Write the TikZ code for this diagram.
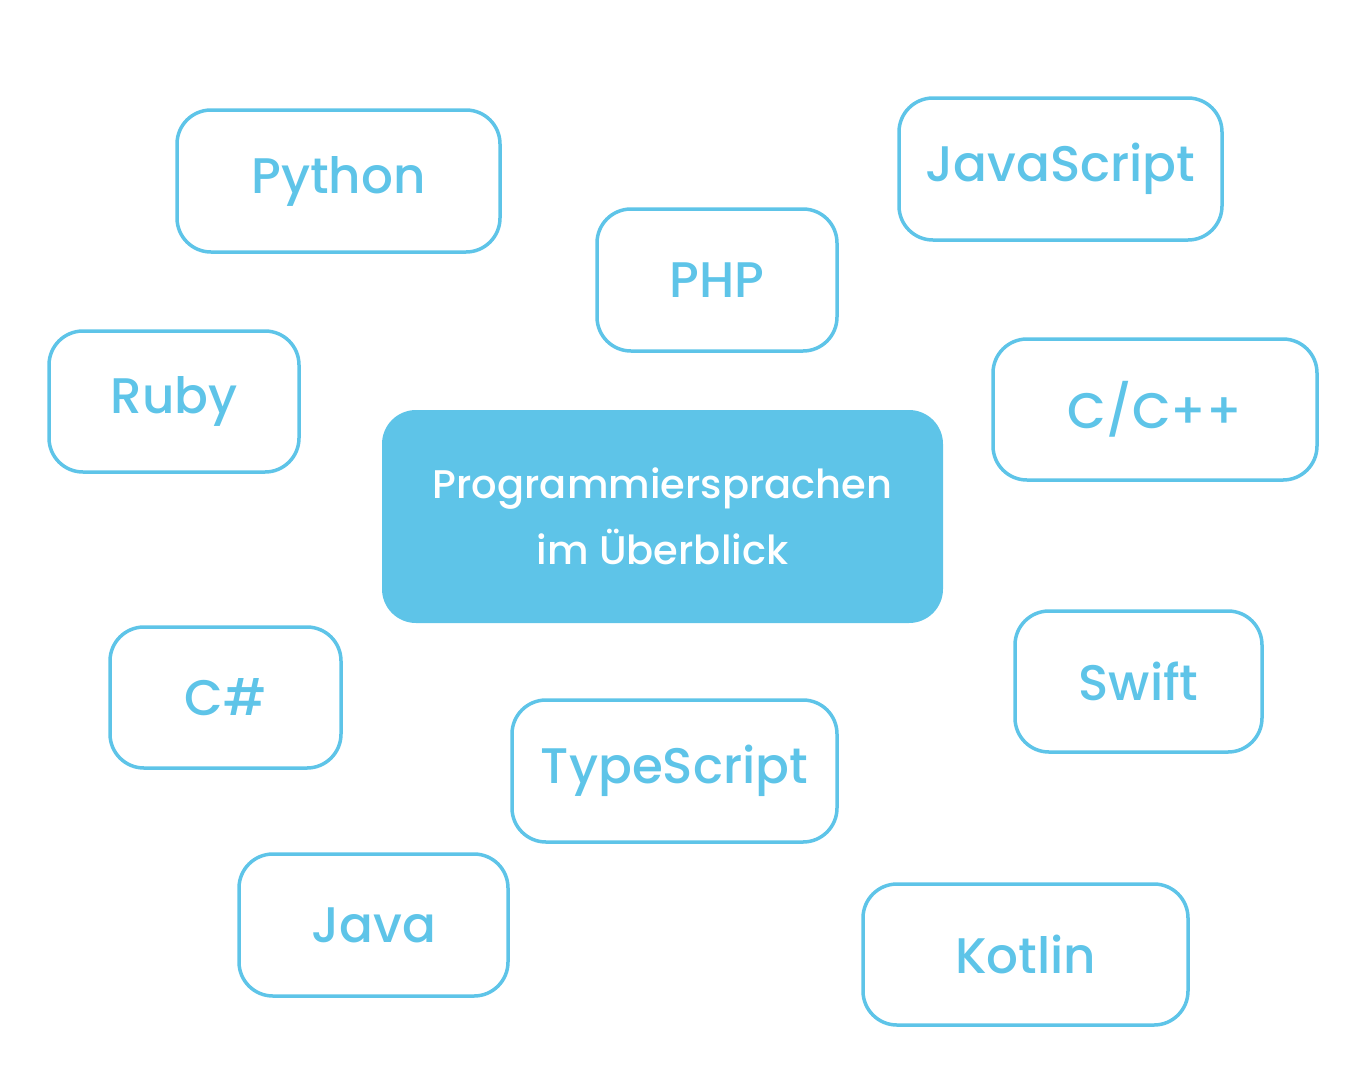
\documentclass[tikz,border=0pt]{standalone}
\usepackage{fontspec}
\setmainfont{Poppins}[UprightFont=* Medium]
\definecolor{sky}{HTML}{5EC4E8}
\begin{document}
\begin{tikzpicture}[x=1pt,y=-1pt,
  lang/.style={draw=sky,line width=3.5pt,rounded corners=34pt,text=sky,font=\fontsize{50}{56}\selectfont,inner sep=0pt},
  hub/.style={fill=sky,rounded corners=34pt,text=white,font=\fontsize{40}{66}\selectfont,align=center,inner sep=0pt}]
\useasboundingbox (0,0) rectangle (1350,1080);
\newcommand\langbox[6]{\node[lang,minimum width=#4-#2,minimum height=#5-#3] (#1) at ({(#2+#4)/2},{(#3+#5)/2}) {#6};}
\langbox{python}{177}{110}{500}{252}{Python}
\langbox{php}{597}{209}{837}{351}{PHP}
\langbox{js}{899}{98}{1222}{240}{JavaScript}
\langbox{ruby}{49}{331}{299}{472}{Ruby}
\langbox{cpp}{993}{339}{1317}{480}{C/C++}
\langbox{cs}{110}{627}{341}{768}{C\#}
\langbox{swift}{1015}{611}{1262}{752}{Swift}
\langbox{ts}{512}{700}{837}{842}{TypeScript}
\langbox{java}{239}{854}{508}{996}{Java}
\langbox{kotlin}{863}{884}{1188}{1025}{Kotlin}
\node[hub,minimum width=561,minimum height=213] (center) at (662.5,516.5) {Programmiersprachen\\im Überblick};
\end{tikzpicture}
\end{document}
